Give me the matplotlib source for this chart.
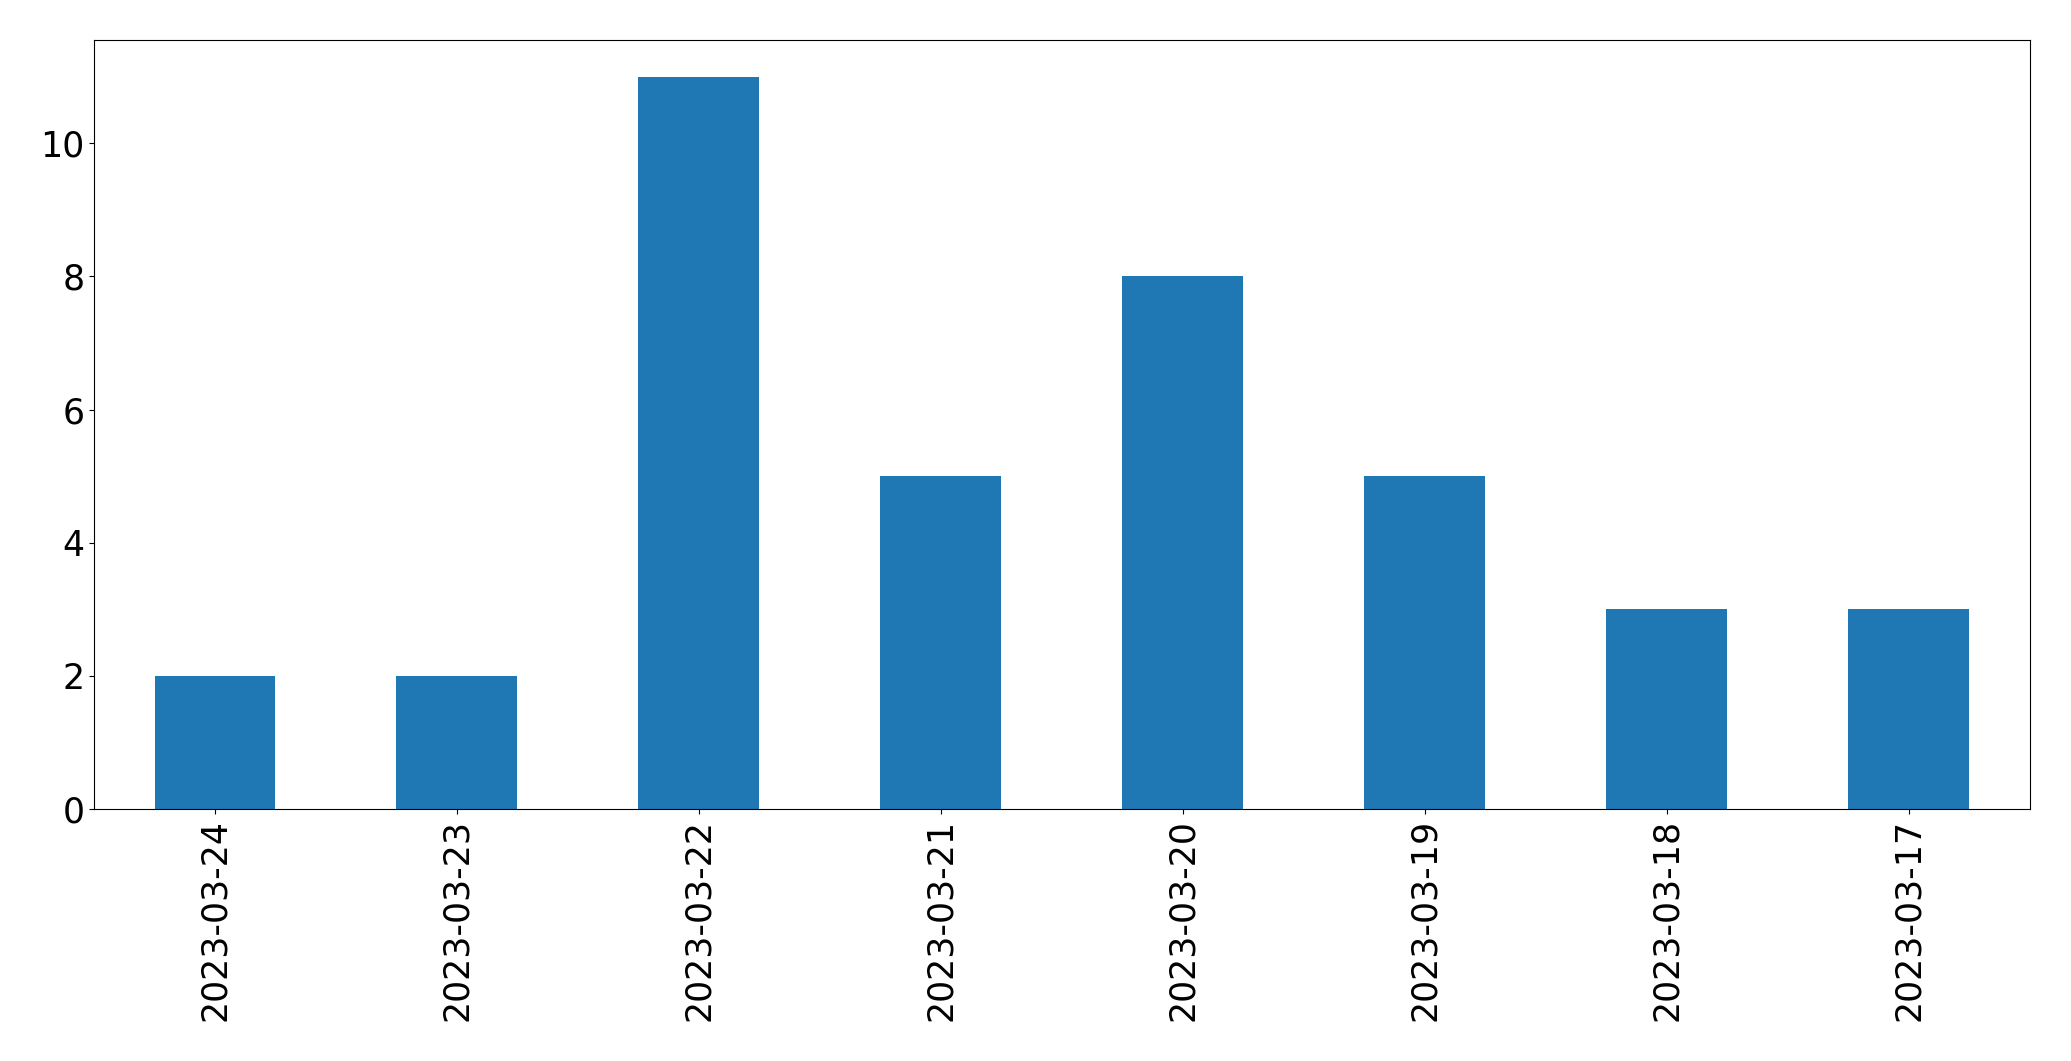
import matplotlib
matplotlib.use('Agg')
import matplotlib.pyplot as plt
import pandas as pd

dates = ["2023-03-24", "2023-03-23", "2023-03-22", "2023-03-21",
         "2023-03-20", "2023-03-19", "2023-03-18", "2023-03-17"]
counts = [2, 2, 11, 5, 8, 5, 3, 3]

plt.rcParams['font.size'] = 25

s = pd.Series(counts, index=dates)

fig = plt.figure(figsize=(20.71, 10.61), dpi=100)
ax = fig.add_subplot(111)
s.plot(kind='bar', ax=ax, color='#1f77b4')
fig.subplots_adjust(left=0.0454, right=0.980, top=0.9623, bottom=0.2375)

fig.savefig('out.png', dpi=100)
